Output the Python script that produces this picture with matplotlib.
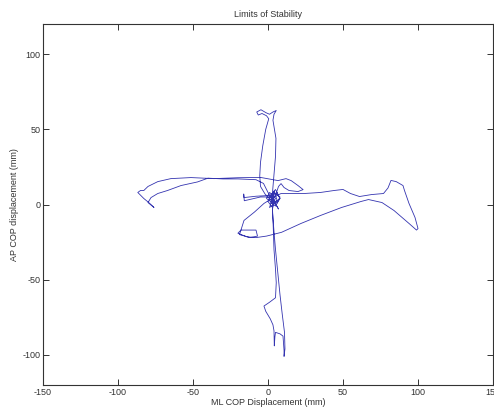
import numpy as np
import matplotlib.pyplot as plt

plt.rcParams['font.family'] = ['Liberation Sans', 'DejaVu Sans']
plt.rcParams['axes.unicode_minus'] = False

# COP trajectory (mm), ML (x) and AP (y)
start_x = [2, 4, 1, -1, 3, 5, 2, 0, 3, 4, 1, 6, 8, 5, 2]
start_y = [3, 6, 8, 4, 1, 4, 7, 2, -2, 3, 5, 8, 4, -1, 1]

up_x = [3, 4, 5, 5.3, 4, 3.3, 4, 5.5, 3.3, 1, -1.3, -4.7, -7.5, -6.5, -4, -1,
        0.5, -1.5, -3.5, -5, -5.5, -5, -2, 2, 4, 1, 3, 6]
up_y = [8, 20, 32, 44, 52, 56, 60, 62.5, 61.5, 60, 61, 63, 61.5, 59.5, 60.5,
        59, 57, 50, 39, 28, 19, 12, 7, 3, 0, -2, 4, 6]

right_x = [8.7, 24, 35, 44, 50, 55, 61, 69, 77, 80, 82, 85.5, 90, 91, 94, 98,
           100, 99, 94, 84, 76, 67, 62, 49, 35, 22, 9, -1, -8, -14, -20]
right_y = [7.3, 7.3, 8, 9.3, 10, 7.3, 5.3, 6.6, 7.3, 11, 16, 15.2, 12.6, 9.3,
           0.7, -8.6, -16, -17, -12.6, -4, 1.3, 3.3, 2, -2, -7.3, -12.6, -18.5,
           -21, -22, -21.5, -19.2]

loop_x = [-20, -18, -8, -7, -12, -19, -16, -9, -2.7, 1, 1, -8, -16, -16.2,
          -15.8, -5, 2, 4, 6, 3, 8, 5, 2, 7, 4]
loop_y = [-19, -17, -17, -21, -22, -20, -10.6, -5, 0.7, 3, 6, 5.5, 4.6, 7,
          2.5, 5, 5, 9, 3, 0, 4, 10, 6, -3, 2]

down_x = [3, 3.5, 4, 5, 5.5, 5, 1, -2.7, -1.5, 1.5, 3.3, 4, 4.2, 4.6, 5, 8,
          10, 10.7, 10.7, 11.3, 11, 9.5, 8, 6.5, 5, 4, 3]
down_y = [-3, -15, -30, -43, -52, -62, -65, -67.5, -71, -76, -80, -84, -94,
          -88, -85, -86, -87.5, -97, -101, -96, -85, -73, -60, -45, -30, -18, -5]

left_x = [3, 0, -3, -8, -20, -30, -40, -47, -58, -67, -73.5, -78, -80, -76,
          -79.5, -82.8, -86.8, -85, -82.8, -80, -73.5, -64.8, -51.4, -36, -20,
          -5, 6.7, 12, 15.4, 20, 23.4, 20, 14, 10.7, 8.7, 7, 5, 3, 6, 8, 4, 2]
left_y = [3, 8, 14, 16.5, 17, 17, 17.5, 15, 12.6, 9.3, 7.3, 4.6, 1.3, -2, 1.3,
          4, 8, 9.3, 9.3, 12, 15.2, 17.2, 17.9, 17.2, 17.8, 18, 15.9, 17.2,
          15.9, 12.6, 9.9, 8.6, 9.3, 11.3, 13.9, 12, 6, 3, 1, 5, 8, 2]

x = np.concatenate([start_x, up_x, right_x, loop_x, down_x, left_x])
y = np.concatenate([start_y, up_y, right_y, loop_y, down_y, left_y])

fig = plt.figure(figsize=(4.94, 4.09), dpi=100)
ax = fig.add_axes([43 / 494, 24 / 409, 450 / 494, 361 / 409])

ax.plot(x, y, color='#3434b0', linewidth=0.6)

ax.set_xlim(-150, 150)
ax.set_ylim(-120, 120)
ax.set_xticks([-150, -100, -50, 0, 50, 100, 150])
ax.set_yticks([-100, -50, 0, 50, 100])
ax.tick_params(direction='in', length=4, width=0.7, labelsize=6.5, pad=2,
               top=True, right=True, colors='#333333', labelcolor='#333333')
for s in ax.spines.values():
    s.set_linewidth(0.8)
    s.set_color('#333333')

ax.set_title('Limits of Stability', fontsize=6.5, color='#333333', pad=5)
ax.set_xlabel('ML COP Displacement (mm)', fontsize=6.5, color='#333333')
ax.set_ylabel('AP COP displacement (mm)', fontsize=6.5, color='#333333')
ax.xaxis.set_label_coords(0.5, -0.036)
ax.yaxis.set_label_coords(-0.053, 0.5)

fig.savefig('out.png', dpi=100)
